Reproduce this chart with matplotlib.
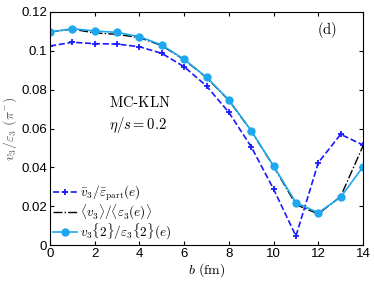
import numpy as np
import matplotlib.pyplot as plt

plt.rcParams['mathtext.fontset'] = 'cm'
plt.rcParams['font.family'] = ['Liberation Sans', 'DejaVu Sans']

# impact parameter b (fm)
b = np.arange(0, 15)

# v3bar / eps_part
v3_part = [0.1025, 0.1044, 0.1037, 0.1035, 0.1021, 0.0987, 0.0918, 0.0819,
           0.0683, 0.0506, 0.0288, 0.0046, 0.0424, 0.0570, 0.0515]
# <v3> / <eps3(e)>
v3_mean = [0.1097, 0.1112, 0.1092, 0.1085, 0.1068, 0.1027, 0.0954, 0.0862,
           0.0745, 0.0587, 0.0405, 0.0208, 0.0160, 0.0250, 0.0510]
# v3{2} / eps3{2}(e)
v3_two = [0.1097, 0.1114, 0.1102, 0.1095, 0.1073, 0.1030, 0.0956, 0.0864,
          0.0747, 0.0589, 0.0407, 0.0218, 0.0166, 0.0246, 0.0403]

fig = plt.figure(figsize=(3.74, 2.81), dpi=100)
ax = fig.add_axes([50/374, 1 - 245/281, 313/374, 233/281])

ax.plot(b, v3_part, '--', color='#1a1aff', lw=1.2, marker='+', ms=5, mew=1.3,
        label=r'$\bar{v}_3/\bar{\varepsilon}_{\rm part}(e)$')
ax.plot(b, v3_mean, '-.', color='black', lw=1.0,
        label=r'$\langle v_3\rangle/\langle\varepsilon_3(e)\rangle$')
ax.plot(b, v3_two, '-', color='#1ea8f0', lw=1.2, marker='o', ms=5,
        label=r'$v_3\{2\}/\varepsilon_3\{2\}(e)$')

ax.set_xlim(0, 14)
ax.set_ylim(0, 0.12)
ax.set_xticks(range(0, 15, 2))
ax.set_yticks([0, 0.02, 0.04, 0.06, 0.08, 0.1, 0.12])
ax.set_yticklabels(['0', '0.02', '0.04', '0.06', '0.08', '0.1', '0.12'])
ax.tick_params(direction='in', top=True, right=True, labelsize=9.5, length=3, pad=2)

ax.set_xlabel(r'$b\ ({\rm fm})$', fontsize=10, labelpad=1)
ax.set_ylabel(r'$v_3/\varepsilon_3\ (\pi^{-})$', fontsize=10, color='#555555', labelpad=2)

ax.text(0.19, 0.61, r'${\rm MC}$-${\rm KLN}$', transform=ax.transAxes,
        fontsize=10.5, va='center')
ax.text(0.19, 0.515, r'$\eta/s=0.2$', transform=ax.transAxes,
        fontsize=10.5, va='center')
ax.text(0.853, 0.923, r'$({\rm d})$', transform=ax.transAxes,
        fontsize=10.5, va='center')

ax.legend(loc='lower left', frameon=False, fontsize=9.5, handlelength=1.8,
          handletextpad=0.2, labelspacing=-0.05, borderaxespad=0.15,
          borderpad=0.1)

fig.savefig('out.png', dpi=100)
